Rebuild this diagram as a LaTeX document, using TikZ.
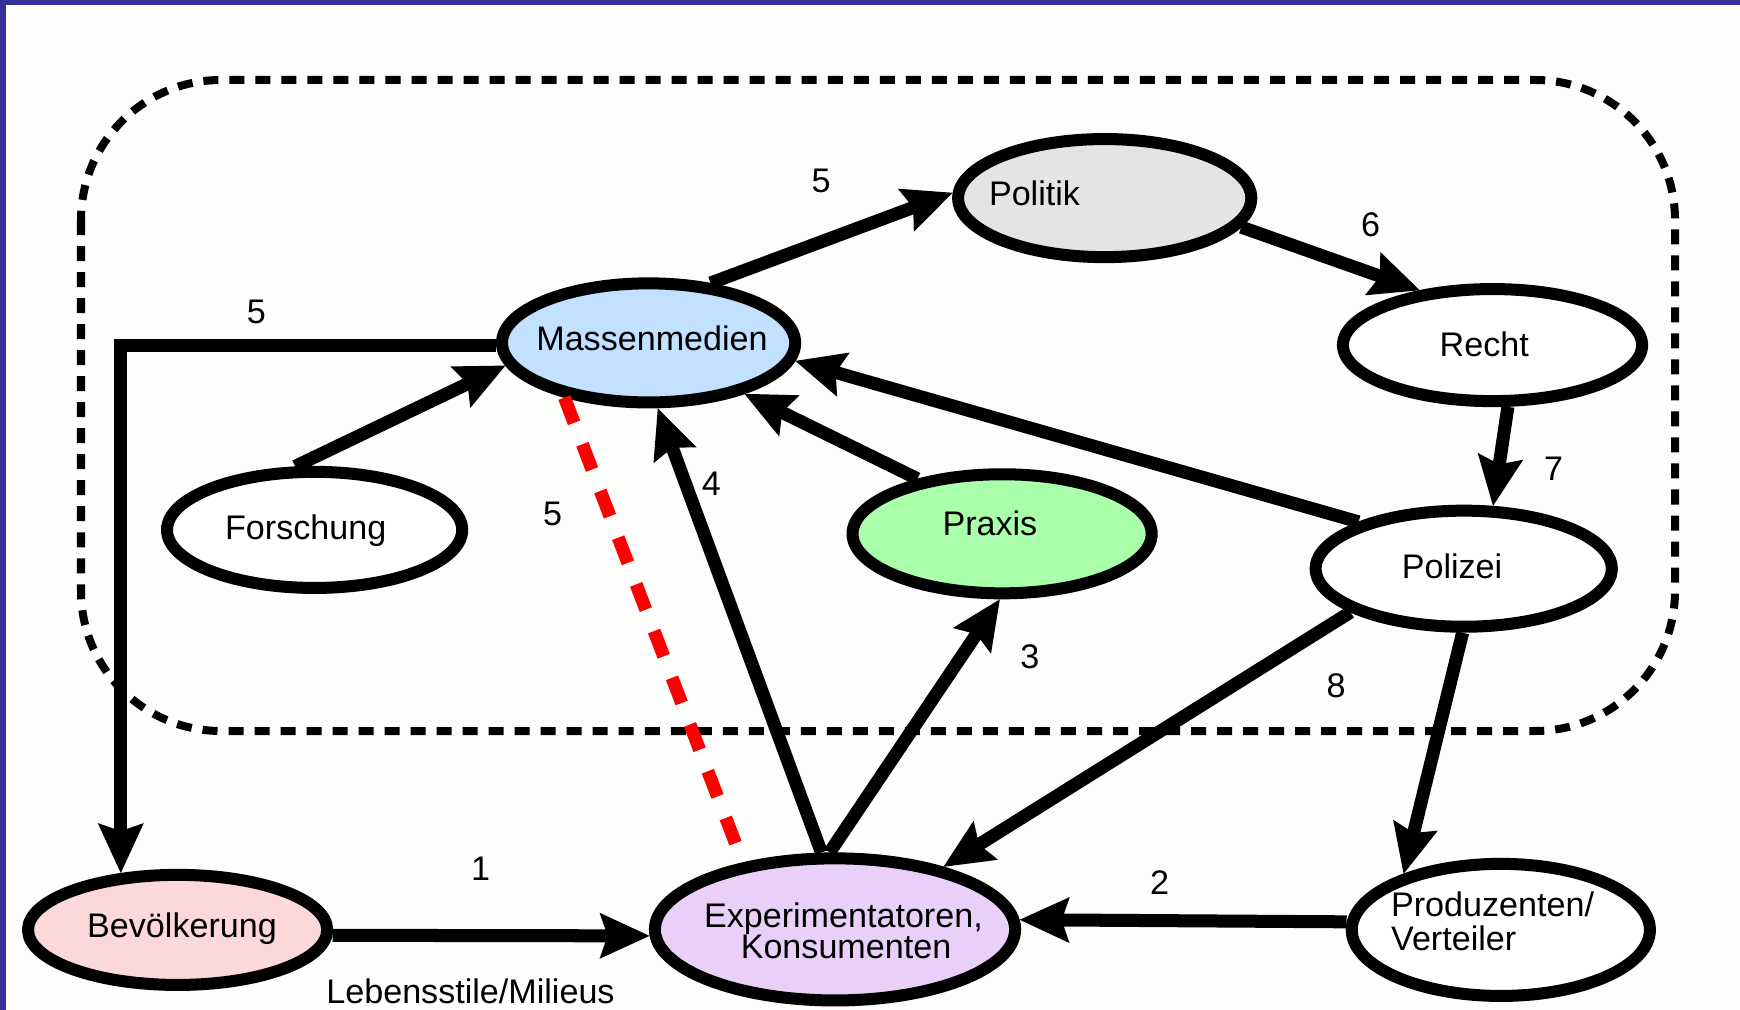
\documentclass[tikz,border=0pt]{standalone}
\usepackage{fontspec}
\setmainfont{Liberation Sans}
\usetikzlibrary{shapes.geometric,arrows.meta}
\definecolor{framecol}{RGB}{51,51,153}
\definecolor{paper}{RGB}{253,253,251}
\definecolor{polfill}{RGB}{228,228,228}
\definecolor{mmfill}{RGB}{194,224,255}
\definecolor{prfill}{RGB}{170,255,170}
\definecolor{bevfill}{RGB}{252,216,216}
\definecolor{exfill}{RGB}{234,208,248}
\definecolor{linkred}{RGB}{255,0,0}
\begin{document}
\begin{tikzpicture}[x=0.01cm,y=-0.01cm,
  ell/.style={ellipse, draw=black, line width=0.12cm, inner sep=0pt, outer sep=0.06cm},
  lbl/.style={font=\fontsize{9.7}{11}\selectfont, inner sep=0pt, anchor=base},
  lnk/.style={line width=0.13cm, line join=miter,
    -{Stealth[length=0.5cm,width=0.46cm,inset=0.08cm,line width=0pt]}},
  redlnk/.style={line width=0.13cm, draw=linkred, dash pattern=on 0.27cm off 0.23cm},
  areabox/.style={line width=0.08cm, dash pattern=on 0.15cm off 0.11cm, rounded corners=1.4cm}]

% page and frame
\useasboundingbox (0,0) rectangle (1740,1010);
\fill[paper] (0,0) rectangle (1740,1010);
\fill[framecol] (0,0) rectangle (1740,5);
\fill[framecol] (0,0) rectangle (6,1010);

% dashed area around the institutions
\draw[areabox] (81,80) rectangle (1675,731);

% actors
\node[ell, fill=polfill, minimum width=2.93cm, minimum height=1.18cm] (pol) at (1104.7,198.1) {};
\node[ell, fill=white, minimum width=2.99cm, minimum height=1.12cm] (rec) at (1492.5,345.1) {};
\node[ell, fill=mmfill, minimum width=2.93cm, minimum height=1.19cm] (mm) at (648.6,342.9) {};
\node[ell, fill=white, minimum width=2.95cm, minimum height=1.16cm] (fo) at (314.6,529.9) {};
\node[ell, fill=prfill, minimum width=2.99cm, minimum height=1.19cm] (pra) at (1002.1,533.8) {};
\node[ell, fill=white, minimum width=2.96cm, minimum height=1.16cm] (poz) at (1463.7,568.7) {};
\node[ell, fill=bevfill, minimum width=2.99cm, minimum height=1.10cm] (bev) at (177.6,929.9) {};
\node[ell, fill=exfill, minimum width=3.60cm, minimum height=1.42cm] (ex) at (835,929.4) {};
\node[ell, fill=white, minimum width=2.98cm, minimum height=1.32cm] (pro) at (1500.8,929.9) {};

% actor names
\node[lbl] (t-pol) at (1034.5,206) {Politik};
\node[lbl] (t-rec) at (1484.2,357) {Recht};
\node[lbl] (t-mm) at (652,350.5) {Massenmedien};
\node[lbl] (t-fo) at (305.7,540) {Forschung};
\node[lbl] (t-pra) at (989.9,536) {Praxis};
\node[lbl] (t-poz) at (1452,578) {Polizei};
\node[lbl] (t-bev) at (182,937.5) {Bevölkerung};
\node[lbl] (t-ex1) at (843.4,927.5) {Experimentatoren,};
\node[lbl] (t-ex2) at (846,958.6) {Konsumenten};
\node[lbl, anchor=base west] (t-pro1) at (1390.4,916.4) {Produzenten/};
\node[lbl, anchor=base west] (t-pro2) at (1390.4,950.8) {Verteiler};

% connections
\draw[lnk] (mm.44) -- (pol.178);
\draw[lnk] (pol.-12) -- (rec.143);
\draw[lnk] (rec.-76) -- (poz.65);
\draw[lnk] (mm.181) -| (bev.135);
\draw[lnk] (fo.107) -- (mm.189);
\draw[lnk] (ex.100) -- (mm.-82);
\draw[lnk] (pra.147) -- (mm.-28);
\draw[lnk] (poz.156) -- (mm.-7);
\draw[lnk] (ex.94) -- (pra.-92);
\draw[lnk] (poz.201) -- (ex.30);
\draw[lnk] (poz.-91) -- (pro.150);
\draw[lnk] (bev.-2) -- (ex.182);
\draw[lnk] (pro.177) -- (ex.3);
\draw[redlnk] (mm.213) -- (ex.144);

% step numbers and caption
\node[lbl] (n-a) at (821.2,193) {5};
\node[lbl] (n-b) at (1370.5,237) {6};
\node[lbl] (n-c) at (256.3,324) {5};
\node[lbl] (n-d) at (1553.6,481) {7};
\node[lbl] (n-e) at (711.3,496) {4};
\node[lbl] (n-f) at (552.6,526) {5};
\node[lbl] (n-g) at (1029.8,668) {3};
\node[lbl] (n-h) at (1336.1,697) {8};
\node[lbl] (n-i) at (480.5,880) {1};
\node[lbl] (n-j) at (1159.6,894) {2};
\node[lbl] (cap) at (470.5,1003) {Lebensstile/Milieus};
\end{tikzpicture}
\end{document}
